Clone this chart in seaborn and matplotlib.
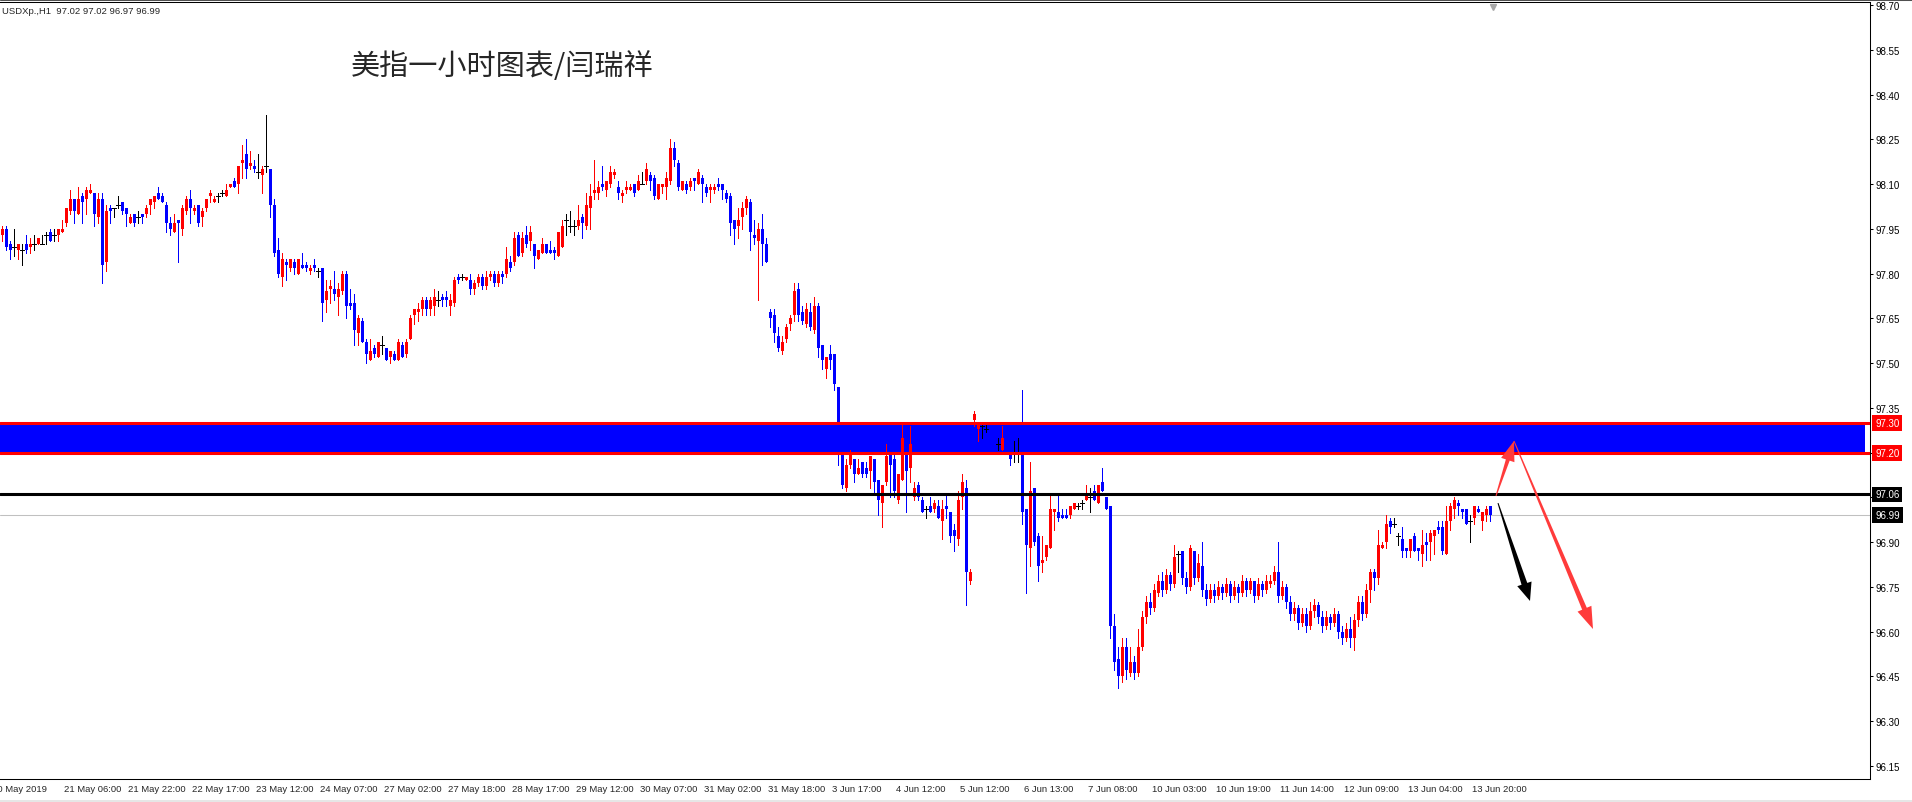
import numpy as np
import pandas as pd
import seaborn as sns
import matplotlib.pyplot as plt
from matplotlib.lines import Line2D
from matplotlib.patches import Polygon, Rectangle
from matplotlib.transforms import blended_transform_factory, IdentityTransform

# USDXp H1 candles (bar 0 = 20 May 2019, last = 13 Jun)
opens = [
    97.93, 97.95, 97.90, 97.89, 97.88, 97.88, 97.90, 97.89, 97.90, 97.90,
    97.90, 97.93, 97.94, 97.93, 97.93, 97.94, 97.97, 98.01, 98.05, 98.00,
    98.06, 98.05, 98.07, 98.07, 97.99, 98.05, 97.84, 98.02, 98.02, 98.03,
    98.04, 98.02, 97.97, 98.00, 97.99, 98.00, 98.00, 98.03, 98.04, 98.07,
    98.06, 98.03, 97.97, 97.94, 97.98, 97.95, 98.01, 98.05, 98.01, 98.03,
    97.99, 98.02, 98.06, 98.04, 98.06, 98.07, 98.06, 98.09, 98.11, 98.10,
    98.17, 98.20, 98.16, 98.16, 98.14, 98.13, 98.16, 98.15, 98.03, 97.88,
    97.79, 97.84, 97.82, 97.84, 97.80, 97.83, 97.83, 97.81, 97.83, 97.81,
    97.82, 97.71, 97.75, 97.75, 97.72, 97.74, 97.80, 97.70, 97.70, 97.60,
    97.64, 97.57, 97.51, 97.55, 97.52, 97.56, 97.55, 97.52, 97.53, 97.51,
    97.56, 97.53, 97.58, 97.66, 97.67, 97.68, 97.71, 97.68, 97.69, 97.71,
    97.72, 97.72, 97.69, 97.70, 97.79, 97.79, 97.78, 97.78, 97.75, 97.77,
    97.79, 97.76, 97.79, 97.80, 97.77, 97.80, 97.80, 97.84, 97.84, 97.93,
    97.87, 97.93, 97.91, 97.90, 97.85, 97.87, 97.90, 97.88, 97.88, 97.86,
    97.89, 97.98, 97.96, 97.96, 97.96, 97.99, 97.96, 98.02, 98.07, 98.07,
    98.10, 98.08, 98.10, 98.13, 98.09, 98.06, 98.08, 98.08, 98.10, 98.08,
    98.10, 98.11, 98.13, 98.12, 98.05, 98.09, 98.09, 98.11, 98.22, 98.17,
    98.08, 98.10, 98.09, 98.12, 98.10, 98.12, 98.09, 98.08, 98.08, 98.10,
    98.10, 98.07, 98.06, 97.98, 97.96, 97.99, 98.02, 98.04, 97.93, 97.91,
    97.95, 97.90, 97.67, 97.66, 97.59, 97.54, 97.58, 97.63, 97.66, 97.75,
    97.67, 97.63, 97.67, 97.61, 97.69, 97.56, 97.48, 97.53, 97.53, 97.42,
    97.20, 97.08, 97.16, 97.18, 97.13, 97.17, 97.15, 97.14, 97.18, 97.11,
    97.03, 97.10, 97.20, 97.18, 97.04, 97.11, 97.20, 97.15, 97.05, 97.09,
    97.04, 97.01, 97.02, 97.01, 97.02, 96.97, 97.02, 97.00, 96.94, 96.91,
    97.05, 97.08, 96.77, 97.31, 97.28, 97.29, 97.28, 97.28, 97.25, 97.23,
    97.21, 97.25, 97.20, 97.20, 97.20, 97.20, 97.01, 96.88, 97.08, 96.92,
    96.83, 96.85, 96.88, 97.00, 97.00, 96.99, 96.99, 96.99, 97.01, 97.02,
    97.03, 97.04, 97.05, 97.07, 97.03, 97.10, 97.05, 97.02, 96.62, 96.51,
    96.45, 96.55, 96.46, 96.50, 96.46, 96.55, 96.65, 96.70, 96.68, 96.73,
    96.77, 96.74, 96.79, 96.76, 96.86, 96.87, 96.78, 96.75, 96.87, 96.78,
    96.82, 96.74, 96.71, 96.74, 96.72, 96.75, 96.73, 96.76, 96.72, 96.75,
    96.73, 96.77, 96.74, 96.77, 96.72, 96.76, 96.74, 96.76, 96.77, 96.80,
    96.72, 96.75, 96.70, 96.66, 96.68, 96.63, 96.66, 96.62, 96.67, 96.69,
    96.65, 96.62, 96.65, 96.63, 96.66, 96.60, 96.58, 96.61, 96.58, 96.64,
    96.70, 96.66, 96.74, 96.80, 96.78, 96.88, 96.90, 96.97, 96.96, 96.92,
    96.91, 96.88, 96.87, 96.92, 96.88, 96.86, 96.90, 96.90, 96.92, 96.95,
    96.95, 96.86, 96.97, 97.01, 97.03, 97.01, 97.01, 96.97, 96.98, 97.01,
    96.97, 96.99, 97.02,
]
highs = [
    97.96, 97.96, 97.91, 97.95, 97.90, 97.90, 97.93, 97.92, 97.93, 97.92,
    97.93, 97.94, 97.95, 97.95, 97.95, 97.98, 98.02, 98.08, 98.05, 98.09,
    98.07, 98.09, 98.10, 98.07, 98.07, 98.07, 98.03, 98.03, 98.02, 98.06,
    98.04, 98.02, 98.00, 98.00, 98.01, 98.00, 98.03, 98.05, 98.06, 98.09,
    98.07, 98.04, 97.99, 98.00, 97.98, 98.03, 98.06, 98.08, 98.03, 98.03,
    98.02, 98.05, 98.08, 98.06, 98.07, 98.08, 98.10, 98.10, 98.12, 98.16,
    98.23, 98.25, 98.21, 98.18, 98.20, 98.16, 98.33, 98.15, 98.05, 97.92,
    97.87, 97.85, 97.85, 97.85, 97.85, 97.87, 97.84, 97.83, 97.85, 97.82,
    97.82, 97.78, 97.78, 97.81, 97.77, 97.81, 97.81, 97.75, 97.73, 97.66,
    97.65, 97.58, 97.58, 97.56, 97.57, 97.59, 97.55, 97.54, 97.54, 97.58,
    97.57, 97.58, 97.66, 97.68, 97.70, 97.72, 97.72, 97.72, 97.75, 97.74,
    97.73, 97.74, 97.73, 97.79, 97.80, 97.80, 97.79, 97.80, 97.78, 97.80,
    97.80, 97.81, 97.81, 97.81, 97.81, 97.81, 97.89, 97.86, 97.94, 97.94,
    97.94, 97.96, 97.96, 97.90, 97.88, 97.92, 97.90, 97.91, 97.89, 97.94,
    97.98, 98.00, 98.01, 97.98, 98.03, 98.00, 98.07, 98.10, 98.18, 98.11,
    98.16, 98.11, 98.16, 98.15, 98.11, 98.08, 98.11, 98.10, 98.10, 98.13,
    98.14, 98.17, 98.14, 98.13, 98.10, 98.10, 98.14, 98.25, 98.24, 98.18,
    98.11, 98.11, 98.12, 98.12, 98.15, 98.13, 98.10, 98.10, 98.10, 98.12,
    98.10, 98.08, 98.07, 97.98, 98.02, 98.04, 98.06, 98.05, 97.98, 97.97,
    98.00, 97.92, 97.68, 97.68, 97.62, 97.59, 97.63, 97.66, 97.77, 97.77,
    97.69, 97.70, 97.70, 97.72, 97.70, 97.56, 97.52, 97.56, 97.53, 97.42,
    97.20, 97.18, 97.21, 97.18, 97.18, 97.17, 97.17, 97.19, 97.18, 97.11,
    97.09, 97.23, 97.20, 97.20, 97.13, 97.30, 97.20, 97.29, 97.10, 97.10,
    97.05, 97.02, 97.05, 97.04, 97.04, 97.04, 97.06, 97.00, 96.96, 97.07,
    97.13, 97.11, 96.81, 97.34, 97.30, 97.30, 97.30, 97.29, 97.26, 97.25,
    97.29, 97.26, 97.21, 97.24, 97.25, 97.41, 97.01, 97.17, 97.08, 96.93,
    96.92, 96.89, 97.06, 97.01, 97.06, 97.01, 97.01, 97.02, 97.03, 97.03,
    97.04, 97.09, 97.08, 97.09, 97.09, 97.15, 97.05, 97.02, 96.66, 96.55,
    96.58, 96.58, 96.55, 96.52, 96.61, 96.67, 96.72, 96.73, 96.76, 96.79,
    96.80, 96.81, 96.80, 96.89, 96.87, 96.87, 96.80, 96.89, 96.87, 96.86,
    96.90, 96.76, 96.76, 96.76, 96.77, 96.76, 96.78, 96.77, 96.77, 96.76,
    96.79, 96.78, 96.78, 96.77, 96.78, 96.77, 96.79, 96.79, 96.82, 96.90,
    96.77, 96.76, 96.72, 96.70, 96.69, 96.68, 96.68, 96.70, 96.71, 96.70,
    96.67, 96.67, 96.66, 96.68, 96.67, 96.62, 96.63, 96.65, 96.66, 96.72,
    96.72, 96.76, 96.81, 96.81, 96.94, 96.90, 96.99, 96.98, 96.98, 96.93,
    96.95, 96.88, 96.91, 96.93, 96.88, 96.94, 96.93, 96.94, 96.94, 96.97,
    96.97, 97.02, 97.03, 97.05, 97.04, 97.01, 97.01, 96.99, 97.02, 97.02,
    97.00, 97.02, 97.02,
]
lows = [
    97.91, 97.88, 97.85, 97.86, 97.85, 97.83, 97.87, 97.87, 97.88, 97.90,
    97.90, 97.90, 97.91, 97.91, 97.91, 97.94, 97.96, 98.00, 97.97, 98.00,
    97.97, 98.00, 98.07, 97.96, 97.97, 97.77, 97.81, 97.97, 97.99, 98.02,
    98.00, 97.96, 97.97, 97.96, 97.97, 97.97, 97.99, 98.00, 98.02, 98.05,
    98.04, 97.94, 97.93, 97.94, 97.84, 97.93, 98.00, 97.97, 98.00, 97.96,
    97.96, 98.01, 98.04, 98.04, 98.04, 98.06, 98.06, 98.09, 98.09, 98.07,
    98.12, 98.12, 98.15, 98.14, 98.12, 98.07, 98.14, 97.99, 97.86, 97.79,
    97.76, 97.78, 97.81, 97.80, 97.80, 97.82, 97.81, 97.80, 97.81, 97.79,
    97.64, 97.67, 97.70, 97.71, 97.66, 97.73, 97.65, 97.68, 97.56, 97.56,
    97.57, 97.50, 97.51, 97.52, 97.52, 97.53, 97.51, 97.50, 97.51, 97.51,
    97.52, 97.52, 97.58, 97.63, 97.64, 97.66, 97.66, 97.66, 97.66, 97.69,
    97.69, 97.69, 97.66, 97.69, 97.77, 97.78, 97.78, 97.73, 97.73, 97.76,
    97.75, 97.75, 97.78, 97.76, 97.76, 97.77, 97.79, 97.81, 97.83, 97.86,
    97.86, 97.89, 97.88, 97.82, 97.85, 97.87, 97.87, 97.87, 97.85, 97.86,
    97.89, 97.93, 97.94, 97.93, 97.95, 97.92, 97.95, 97.95, 98.05, 98.05,
    98.08, 98.06, 98.09, 98.12, 98.05, 98.04, 98.07, 98.08, 98.06, 98.08,
    98.10, 98.10, 98.08, 98.05, 98.05, 98.07, 98.05, 98.10, 98.16, 98.08,
    98.08, 98.07, 98.08, 98.08, 98.10, 98.04, 98.06, 98.04, 98.07, 98.08,
    98.05, 98.04, 97.93, 97.90, 97.92, 97.95, 98.00, 97.88, 97.90, 97.71,
    97.83, 97.84, 97.62, 97.57, 97.54, 97.53, 97.57, 97.61, 97.64, 97.64,
    97.63, 97.62, 97.61, 97.60, 97.52, 97.48, 97.45, 97.48, 97.41, 97.16,
    97.08, 97.07, 97.15, 97.10, 97.13, 97.12, 97.12, 97.08, 97.06, 96.99,
    96.95, 97.09, 97.05, 97.05, 97.03, 97.11, 97.00, 97.10, 97.04, 97.04,
    97.00, 96.98, 97.00, 97.00, 96.98, 96.91, 96.98, 96.90, 96.87, 96.89,
    97.01, 96.69, 96.76, 97.29, 97.24, 97.25, 97.27, 97.24, 97.22, 97.21,
    97.21, 97.20, 97.16, 97.17, 97.17, 96.96, 96.73, 96.82, 96.89, 96.77,
    96.80, 96.84, 96.88, 96.94, 96.97, 96.98, 96.98, 96.98, 97.01, 97.01,
    97.01, 97.04, 97.00, 97.04, 97.03, 97.07, 97.01, 96.58, 96.47, 96.41,
    96.43, 96.44, 96.45, 96.44, 96.45, 96.54, 96.63, 96.66, 96.67, 96.72,
    96.72, 96.73, 96.74, 96.75, 96.80, 96.76, 96.73, 96.74, 96.76, 96.77,
    96.72, 96.69, 96.70, 96.70, 96.71, 96.71, 96.72, 96.70, 96.71, 96.70,
    96.72, 96.72, 96.73, 96.70, 96.71, 96.72, 96.73, 96.75, 96.76, 96.70,
    96.71, 96.68, 96.64, 96.64, 96.61, 96.62, 96.60, 96.61, 96.65, 96.63,
    96.60, 96.61, 96.61, 96.62, 96.58, 96.56, 96.57, 96.55, 96.54, 96.62,
    96.64, 96.65, 96.70, 96.74, 96.76, 96.88, 96.88, 96.93, 96.95, 96.89,
    96.85, 96.85, 96.85, 96.87, 96.84, 96.82, 96.84, 96.84, 96.86, 96.93,
    96.86, 96.86, 96.94, 96.98, 96.99, 96.98, 96.96, 96.90, 96.96, 97.00,
    96.94, 96.97, 96.97,
]
closes = [
    97.95, 97.89, 97.88, 97.89, 97.90, 97.88, 97.88, 97.90, 97.90, 97.92,
    97.90, 97.93, 97.91, 97.93, 97.95, 97.95, 98.02, 98.05, 98.01, 98.05,
    98.04, 98.08, 98.08, 98.00, 98.05, 97.83, 98.01, 98.01, 98.02, 98.03,
    98.01, 98.00, 97.99, 97.97, 97.99, 97.99, 98.02, 98.05, 98.06, 98.05,
    98.04, 97.97, 97.95, 97.97, 97.97, 98.02, 98.05, 98.02, 98.02, 97.97,
    98.01, 98.05, 98.07, 98.05, 98.06, 98.07, 98.08, 98.10, 98.09, 98.16,
    98.18, 98.15, 98.17, 98.15, 98.14, 98.15, 98.16, 98.03, 97.87, 97.80,
    97.85, 97.83, 97.85, 97.82, 97.85, 97.82, 97.82, 97.82, 97.82, 97.81,
    97.70, 97.74, 97.76, 97.73, 97.75, 97.80, 97.69, 97.69, 97.61, 97.65,
    97.57, 97.53, 97.54, 97.53, 97.57, 97.56, 97.51, 97.54, 97.51, 97.57,
    97.52, 97.57, 97.65, 97.68, 97.68, 97.71, 97.68, 97.71, 97.72, 97.71,
    97.71, 97.71, 97.71, 97.78, 97.78, 97.79, 97.79, 97.75, 97.77, 97.79,
    97.76, 97.79, 97.80, 97.77, 97.80, 97.79, 97.85, 97.82, 97.92, 97.86,
    97.92, 97.90, 97.94, 97.86, 97.88, 97.90, 97.87, 97.87, 97.87, 97.94,
    97.96, 97.98, 97.96, 97.96, 97.98, 97.97, 98.03, 98.06, 98.08, 98.09,
    98.09, 98.11, 98.14, 98.14, 98.07, 98.07, 98.09, 98.09, 98.07, 98.11,
    98.10, 98.15, 98.11, 98.06, 98.10, 98.10, 98.12, 98.22, 98.18, 98.09,
    98.11, 98.08, 98.11, 98.11, 98.14, 98.10, 98.07, 98.09, 98.09, 98.09,
    98.08, 98.05, 97.97, 97.95, 97.98, 98.02, 98.05, 97.94, 97.92, 97.95,
    97.90, 97.84, 97.65, 97.60, 97.55, 97.57, 97.62, 97.65, 97.74, 97.66,
    97.64, 97.68, 97.62, 97.69, 97.55, 97.51, 97.52, 97.51, 97.43, 97.21,
    97.09, 97.16, 97.20, 97.13, 97.15, 97.13, 97.13, 97.19, 97.10, 97.04,
    97.09, 97.19, 97.16, 97.07, 97.13, 97.25, 97.14, 97.23, 97.08, 97.05,
    97.00, 97.01, 97.00, 97.03, 96.98, 97.01, 97.01, 96.92, 96.92, 97.04,
    97.10, 96.80, 96.80, 97.33, 97.30, 97.29, 97.28, 97.25, 97.23, 97.23,
    97.25, 97.21, 97.18, 97.20, 97.20, 97.00, 96.89, 97.07, 96.90, 96.82,
    96.84, 96.89, 97.01, 97.01, 96.98, 96.98, 96.98, 97.02, 97.03, 97.02,
    97.03, 97.06, 97.05, 97.04, 97.09, 97.07, 97.01, 96.62, 96.50, 96.45,
    96.55, 96.47, 96.50, 96.46, 96.55, 96.65, 96.70, 96.68, 96.74, 96.77,
    96.74, 96.79, 96.76, 96.85, 96.86, 96.78, 96.75, 96.88, 96.78, 96.83,
    96.74, 96.71, 96.74, 96.72, 96.75, 96.73, 96.76, 96.72, 96.75, 96.73,
    96.77, 96.74, 96.77, 96.72, 96.76, 96.74, 96.77, 96.77, 96.80, 96.72,
    96.75, 96.70, 96.66, 96.68, 96.63, 96.66, 96.62, 96.67, 96.69, 96.65,
    96.62, 96.65, 96.63, 96.66, 96.60, 96.58, 96.61, 96.58, 96.64, 96.70,
    96.66, 96.74, 96.80, 96.78, 96.89, 96.89, 96.96, 96.95, 96.96, 96.92,
    96.87, 96.87, 96.91, 96.87, 96.87, 96.89, 96.89, 96.93, 96.94, 96.94,
    96.87, 96.97, 97.02, 97.04, 97.02, 97.00, 96.96, 96.97, 97.02, 97.00,
    97.00, 97.01, 96.99,
]

# time axis: one label every 16 bars, first at bar 15
tick_bars = [15 + 16 * k for k in range(23)]
tick_labels = ['21 May 06:00', '21 May 22:00', '22 May 17:00', '23 May 12:00',
               '24 May 07:00', '27 May 02:00', '27 May 18:00', '28 May 17:00',
               '29 May 12:00', '30 May 07:00', '31 May 02:00', '31 May 18:00',
               '3 Jun 17:00', '4 Jun 12:00', '5 Jun 12:00', '6 Jun 13:00',
               '7 Jun 08:00', '10 Jun 03:00', '10 Jun 19:00', '11 Jun 14:00',
               '12 Jun 09:00', '13 Jun 04:00', '13 Jun 20:00']
first_label = '20 May 2019'

zone_low, zone_high = 97.20, 97.30
pivot_level = 97.06
bid_level = 96.99

# hand drawn arrows: (start bar, start price) -> (end bar, end price)
red_up = ((373.5, 97.055), (378.0, 97.239))
red_down = ((378.0, 97.239), (397.75, 96.609))
black_down = ((374.0, 97.031), (382.0, 96.703))

sns.set_style('white')
plt.rcParams['font.family'] = ['Liberation Sans', 'DejaVu Sans']

df = pd.DataFrame({'open': opens, 'high': highs, 'low': lows, 'close': closes})
df['bar'] = np.arange(len(df))
df['kind'] = np.where(df['close'] > df['open'], 'up',
                      np.where(df['close'] < df['open'], 'down', 'flat'))
palette = {'up': '#ff0000', 'down': '#0000ff', 'flat': '#000000'}

fig = plt.figure(figsize=(19.12, 8.03), dpi=100)
ax = fig.add_axes([0, 23 / 803, 1870 / 1912, 777 / 803])
ax.set_xlim(-0.5, 467)
ax.set_ylim(96.1064, 98.7101)

# supply zone + levels
ax.axhspan(zone_low, zone_high, xmin=0, xmax=1865 / 1870, color='#0000ff', lw=0, zorder=1)
ax.axhline(bid_level, color='#c0c0c0', lw=0.75, zorder=1.5)

# candles
wick_px = 0.72
ax.vlines(df['bar'], df['low'], df['high'], colors=df['kind'].map(palette),
          linewidth=wick_px, zorder=3, antialiased=False)
body = df[df['kind'] != 'flat']
ax.bar(body['bar'], (body['close'] - body['open']).abs(),
       bottom=body[['open', 'close']].min(axis=1), width=0.75,
       color=body['kind'].map(palette), linewidth=0, zorder=3, antialiased=False)
flat = df[df['kind'] == 'flat']
ax.hlines(flat['close'], flat['bar'] - 0.4, flat['bar'] + 0.4, colors='#000000',
          linewidth=wick_px, zorder=3, antialiased=False)

ax.axhline(zone_high, color='#ff0000', lw=2.2, zorder=4)
ax.axhline(zone_low, color='#ff0000', lw=2.2, zorder=4)
ax.axhline(pivot_level, color='#000000', lw=2.2, zorder=4)

# axes look (MT4 like)
sns.despine(ax=ax, left=True, top=False, right=False, bottom=False)
for side in ['top', 'right', 'bottom']:
    ax.spines[side].set_color('black')
    ax.spines[side].set_linewidth(0.75)
ax.yaxis.tick_right()
ax.set_yticks(np.round(np.arange(96.15, 98.71, 0.15), 2))
ax.yaxis.set_major_formatter(plt.FormatStrFormatter('%.2f'))
ax.tick_params(axis='y', direction='out', length=2.5, width=0.75, pad=1.5,
               labelsize=7, colors='black')
ax.set_xticks(tick_bars)
ax.set_xticklabels([])
ax.tick_params(axis='x', direction='out', length=2.5, width=0.75, colors='black')
ax.grid(False)

xtrans = blended_transform_factory(ax.transData, ax.transAxes)
for b, lab in zip(tick_bars, tick_labels):
    ax.text(b + 0.4, -5 / 777, lab, transform=xtrans, ha='left', va='top',
            fontsize=6.8, clip_on=False)
ax.text(-2.6, -5 / 777, first_label, transform=xtrans, ha='left', va='top',
        fontsize=6.8, clip_on=False)

ytrans = blended_transform_factory(ax.transAxes, ax.transData)
for val, fc in [(zone_high, '#ff0000'), (zone_low, '#ff0000'),
                (pivot_level, '#000000'), (bid_level, '#000000')]:
    ax.text(1 + 5 / 1870, val, f'{val:.2f}', transform=ytrans, ha='left', va='center',
            color='white', fontsize=7, zorder=20, clip_on=False,
            bbox=dict(boxstyle='square,pad=0.3', fc=fc, ec='none'))

# shift marker at the top
ax.plot([372.75], [98.695], marker='v', color='#a8a8a8', markersize=5, clip_on=False, zorder=5)


def taper_arrow(p0, p1, w0, w1, head_w, head_len, color):
    a = ax.transData.transform(p0)
    b = ax.transData.transform(p1)
    d = b - a
    u = d / np.hypot(*d)
    n = np.array([-u[1], u[0]])
    base = b - u * head_len
    pts = [a + n * w0 / 2, base + n * w1 / 2, base + n * head_w / 2, b,
           base - n * head_w / 2, base - n * w1 / 2, a - n * w0 / 2]
    ax.add_patch(Polygon(pts, closed=True, transform=IdentityTransform(),
                         fc=color, ec='none', zorder=6))


taper_arrow(*red_up, 1.0, 4.0, 14, 20, '#ff3b3b')
taper_arrow(*red_down, 1.0, 5.0, 15, 22, '#ff3b3b')
taper_arrow(*black_down, 1.0, 6.0, 15, 18, '#000000')

# header and caption
fig.text(2 / 1912, 1 - 12 / 803, 'USDXp.,H1  97.02 97.02 96.97 96.99',
         ha='left', va='center', fontsize=6.8)
fig.text(351 / 1912, 1 - 67 / 803, '美指一小时图表/闫瑞祥', ha='left', va='center',
         fontsize=21, family=['Noto Sans CJK SC', 'DejaVu Sans'], fontweight='light')

fig.add_artist(Line2D([0, 1], [1 - 0.8 / 803, 1 - 0.8 / 803], transform=fig.transFigure,
                      color='#505050', lw=0.75))
fig.patches.append(Rectangle((0, 0), 1, 2 / 803, transform=fig.transFigure,
                             fc='#e6e6e6', ec='none'))

fig.savefig('out.png', dpi=100, facecolor='white')
